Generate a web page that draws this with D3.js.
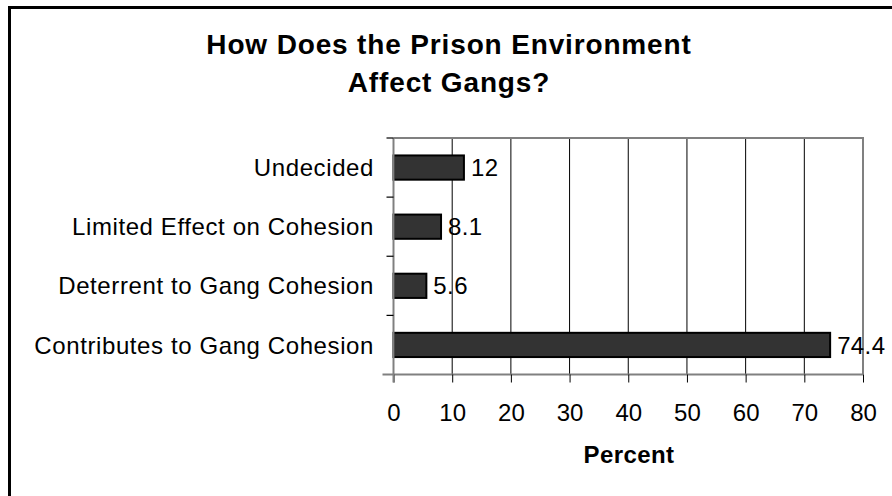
<!DOCTYPE html>
<html>
<head>
<meta charset="utf-8">
<script src="https://cdn.jsdelivr.net/npm/d3@7"></script>
<style>
  html, body { margin: 0; padding: 0; background: #fff; }
  svg { display: block; font-family: "Liberation Sans", Arial, sans-serif; }
</style>
</head>
<body>
<svg id="chart" width="892" height="496"></svg>
<script>
// Survey responses, top to bottom
const categories = [
  "Undecided",
  "Limited Effect on Cohesion",
  "Deterrent to Gang Cohesion",
  "Contributes to Gang Cohesion"
];
const values = [12, 8.1, 5.6, 74.4];
const valueLabels = ["12", "8.1", "5.6", "74.4"];
const xTicks = [0, 10, 20, 30, 40, 50, 60, 70, 80];
const titleLines = ["How Does the Prison Environment", "Affect Gangs?"];
const xTitle = "Percent";

const svg = d3.select("#chart");

// outer frame (left and top edges visible)
svg.append("path")
  .attr("d", "M9.5,496 V7.5 H892")
  .attr("fill", "none")
  .attr("stroke", "#000")
  .attr("stroke-width", 3);

const plot = { left: 393.5, right: 863, top: 138, bottom: 374.5 };

const x = d3.scaleLinear().domain([0, 80]).range([plot.left, plot.right]);
const y = d3.scaleBand().domain(categories).range([plot.top, plot.bottom])
  .paddingInner(0.59).paddingOuter(0.295);
const yOuter = d3.scaleBand().domain(categories).range([plot.top, plot.bottom]);

// vertical gridlines
svg.append("g")
  .selectAll("line")
  .data(xTicks.filter(d => d > 0 && d < 80))
  .join("line")
  .attr("x1", d => x(d)).attr("x2", d => x(d))
  .attr("y1", plot.top).attr("y2", plot.bottom)
  .attr("stroke", "#000")
  .attr("stroke-width", 1);

// plot frame: top and right edges
svg.append("path")
  .attr("d", `M${plot.left},${plot.top} H${plot.right} V${plot.bottom}`)
  .attr("fill", "none")
  .attr("stroke", "#808080")
  .attr("stroke-width", 2);

// bars
svg.append("g")
  .selectAll("rect")
  .data(categories)
  .join("rect")
  .attr("x", x(0))
  .attr("y", d => y(d))
  .attr("width", (d, i) => x(values[i]) - x(0))
  .attr("height", y.bandwidth())
  .attr("fill", "#333333")
  .attr("stroke", "#000")
  .attr("stroke-width", 2);

// value labels
svg.append("g")
  .selectAll("text")
  .data(categories)
  .join("text")
  .attr("x", (d, i) => x(values[i]) + 7)
  .attr("y", d => y(d) + y.bandwidth() / 2)
  .attr("dy", "0.36em")
  .attr("font-size", 24)
  .attr("letter-spacing", 0.4)
  .attr("fill", "#000")
  .text((d, i) => valueLabels[i]);

// x axis
const xAxis = svg.append("g")
  .attr("transform", `translate(0,${plot.bottom})`)
  .call(d3.axisBottom(x).tickValues(xTicks).tickSize(8).tickPadding(0).tickFormat(d3.format("d")));
xAxis.select(".domain").attr("stroke", "#808080").attr("stroke-width", 2)
  .attr("d", `M${plot.left - 11},0 H${plot.right}`);
xAxis.selectAll(".tick line").attr("stroke", "#000").attr("stroke-width", 1);
xAxis.selectAll(".tick text")
  .attr("y", 46).attr("dy", null)
  .attr("font-size", 24).attr("fill", "#000")
  .attr("font-family", "Liberation Sans, Arial, sans-serif");

// y axis: ticks at the category boundaries
const yAxis = svg.append("g").attr("transform", `translate(${plot.left},0)`);
yAxis.append("line")
  .attr("x1", 0).attr("x2", 0)
  .attr("y1", plot.top).attr("y2", plot.bottom + 8)
  .attr("stroke", "#808080").attr("stroke-width", 2);
const boundaries = categories.map(c => yOuter(c)).concat([plot.bottom]);
yAxis.selectAll("line.tk")
  .data(boundaries.slice(0, -1))
  .join("line")
  .attr("class", "tk")
  .attr("x1", -7).attr("x2", 0)
  .attr("y1", d => d).attr("y2", d => d)
  .attr("stroke", "#000").attr("stroke-width", 1.2);
yAxis.selectAll("text")
  .data(categories)
  .join("text")
  .attr("x", -19.5)
  .attr("y", d => yOuter(d) + yOuter.bandwidth() / 2)
  .attr("dy", "0.36em")
  .attr("text-anchor", "end")
  .attr("font-size", 24)
  .attr("letter-spacing", 0.6)
  .attr("fill", "#000")
  .text(d => d);

// title
svg.append("text")
  .attr("text-anchor", "middle")
  .attr("font-size", 28)
  .attr("font-weight", "bold")
  .attr("letter-spacing", 0.85)
  .selectAll("tspan")
  .data(titleLines)
  .join("tspan")
  .attr("x", 449)
  .attr("y", (d, i) => 54 + i * 38)
  .text(d => d);

// x axis title
svg.append("text")
  .attr("x", 629)
  .attr("y", 463)
  .attr("text-anchor", "middle")
  .attr("font-size", 24)
  .attr("font-weight", "bold")
  .attr("letter-spacing", 0.4)
  .text(xTitle);
</script>
</body>
</html>
